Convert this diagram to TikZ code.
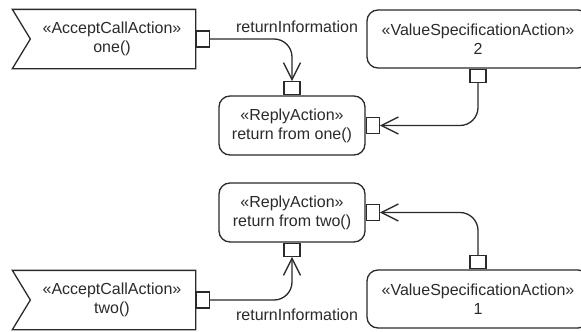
\documentclass[tikz,border=0pt]{standalone}
\usepackage{fontspec}
\setmainfont{Liberation Sans}
\usetikzlibrary{arrows.meta,calc}
\definecolor{ink}{HTML}{2A2A2A}
\tikzset{
  diagram/.style={x=1pt,y=-1pt,line width=1.3pt,draw=ink,text=ink,
    font=\fontsize{16}{19}\selectfont},
  actionbox/.style={draw,rounded corners=11pt,align=center,inner sep=0pt},
  acceptbox/.style={draw=none,align=center,inner sep=0pt,minimum width=166pt,minimum height=58pt},
  pinv/.style={draw,fill=white,inner sep=0pt,minimum width=13pt,minimum height=16pt},
  pinh/.style={draw,fill=white,inner sep=0pt,minimum width=16pt,minimum height=13pt},
  flow/.style={draw,rounded corners=18pt,-{Straight Barb[length=17pt,width=17pt,line width=1.3pt]}},
  flowlabel/.style={inner sep=0pt}
}
\begin{document}
\begin{tikzpicture}[diagram]
\useasboundingbox (0,0) rectangle (581,332);
\clip (0,0) rectangle (581,332);

% call acceptance for one()
\node[acceptbox] (acc1) at (112,39) {«AcceptCallAction»\\one()};
\draw (acc1.north east) -- ($(acc1.north west)+(-16,0)$) -- ($(acc1.west)+(2,0)$)
      -- ($(acc1.south west)+(-16,0)$) -- (acc1.south east) -- cycle;
\node[pinv,anchor=west] (p1) at (acc1.east) {};

% reply for one()
\node[actionbox,minimum width=146pt,minimum height=59pt] (rep1) at (292,125.5)
  {«ReplyAction»\\return from one()};
\node[pinh,anchor=south] (p2) at (rep1.north) {};
\node[pinv,anchor=west] (p3) at (rep1.east) {};

% value 2
\node[actionbox,minimum width=222pt,minimum height=58pt] (vsa2) at (478,39)
  {«ValueSpecificationAction»\\2};
\node[pinh,anchor=north] (p4) at (vsa2.south) {};

% reply for two()
\node[actionbox,minimum width=146pt,minimum height=59pt] (rep2) at (292,212.5)
  {«ReplyAction»\\return from two()};
\node[pinh,anchor=north] (p6) at (rep2.south) {};
\node[pinv,anchor=west] (p5) at (rep2.east) {};

% call acceptance for two()
\node[acceptbox] (acc2) at (112,300) {«AcceptCallAction»\\two()};
\draw (acc2.north east) -- ($(acc2.north west)+(-16,0)$) -- ($(acc2.west)+(2,0)$)
      -- ($(acc2.south west)+(-16,0)$) -- (acc2.south east) -- cycle;
\node[pinv,anchor=west] (p7) at (acc2.east) {};

% value 1
\node[actionbox,minimum width=222pt,minimum height=58pt] (vsa1) at (478,299)
  {«ValueSpecificationAction»\\1};
\node[pinh,anchor=south] (p8) at (vsa1.north) {};

% object flows
\draw[flow] (p1.east) -| (p2.north);
\draw[flow] (p4.south) |- (p3.east);
\draw[flow] (p7.east) -| (p6.south);
\draw[flow] (p8.north) |- (p5.east);

% flow labels
\node[flowlabel] (lab1) at (297,27) {returnInformation};
\node[flowlabel] (lab2) at (297,315) {returnInformation};
\end{tikzpicture}
\end{document}
